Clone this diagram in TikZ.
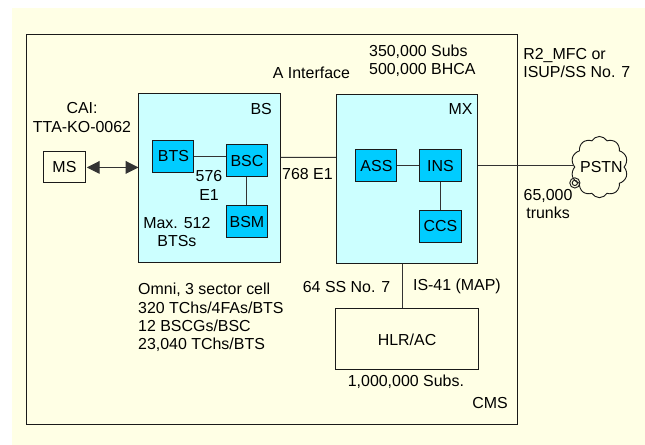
\documentclass[tikz,border=0pt]{standalone}
\usepackage{fontspec}
\setmainfont{Liberation Sans}
\definecolor{Ink}{HTML}{1A1A1A}
\definecolor{Wire}{HTML}{333333}
\definecolor{Paper}{HTML}{FFFFE5}
\definecolor{PaleCyan}{HTML}{CCFFFF}
\definecolor{Cyan}{HTML}{00CCFF}
\usetikzlibrary{arrows.meta, shapes.symbols}

\begin{document}
\begin{tikzpicture}[>={Triangle[length=3.4mm,width=3.4mm]},
  font=\fontsize{12}{13.8}\selectfont,
  frame/.style={rectangle, draw=Ink, line width=0.75pt, inner sep=0pt},
  unit/.style={frame, fill=PaleCyan, minimum width=3.74cm},
  proc/.style={frame, fill=Cyan, minimum width=1.085cm, minimum height=0.847cm},
  plain/.style={frame, fill=Paper},
  arr/.style={draw=Wire, line width=0.75pt},
  lbl/.style={inner sep=0pt, align=center},
  lbll/.style={inner sep=0pt, align=left, anchor=west},
  lblr/.style={inner sep=0pt, anchor=east}
]
\useasboundingbox (0,0) rectangle (17.066,-11.774);
\fill[Paper] (0.3175,-0.2117) rectangle (17.066,-11.774);

%% ---- CMS frame ----
\node[frame, minimum width=12.98cm, minimum height=10.32cm] (cms) at (7.19,-6.06) {};

%% ---- Terminal ----
\node[plain, minimum width=1.09cm, minimum height=0.82cm] (ms) at (1.705,-4.43) {MS};

%% ---- Base station ----
\node[unit, minimum height=4.47cm] (bs) at (5.545,-4.72) {};
\node[proc] (bts) at (4.59,-4.13) {BTS};
\node[proc] (bsc) at (6.535,-4.25) {BSC};
\node[proc] (bsm) at (6.535,-5.87) {BSM};

%% ---- Exchange ----
\node[unit, minimum height=4.45cm] (mx) at (10.77,-4.735) {};
\node[proc] (ass) at (9.96,-4.39) {ASS};
\node[proc] (ins) at (11.655,-4.39) {INS};
\node[proc] (ccs) at (11.655,-5.98) {CCS};

%% ---- Home register ----
\node[plain, minimum width=3.76cm, minimum height=1.61cm] (hlr) at (10.77,-8.98) {HLR/AC};

%% ---- Public network ----
\node[cloud, cloud puffs=10, cloud puff arc=120, aspect=0.95, draw=Ink, line width=0.7pt,
      inner sep=0pt, minimum width=1.5cm, minimum height=1.62cm,
      label={[xshift=1.5pt]center:PSTN}] (pstn) at (15.86,-4.42) {};
\node[circle, draw=Ink, line width=0.7pt, inner sep=0pt, minimum size=0.27cm] (trunkout) at (15.21,-4.84) {};
\node[circle, draw=Ink, line width=0.7pt, inner sep=0pt, minimum size=0.14cm] (trunkin) at (15.21,-4.84) {};

%% ---- Labels ----
\node[lbl] (cai) at (2.17,-3.11) {CAI:\\TTA-KO-0062};
\node[lblr] (bslbl) at (7.2,-2.88) {BS};
\node[lblr] (mxlbl) at (12.51,-2.88) {MX};
\node[lbl] (e1in) at (5.53,-4.91) {576\\E1};
\node[lbl] (maxbts) at (4.68,-6.13) {Max. 512\\BTSs};
\node[lbl] (aif) at (8.24,-1.93) {A Interface};
\node[lbll] (subs) at (9.76,-1.6) {350,000 Subs\\500,000 BHCA};
\node[lbl] (e1out) at (8.135,-4.60) {768 E1};
\node[lbll] (r2) at (13.84,-1.67) {R2\_MFC or\\ISUP/SS No. 7};
\node[lbl] (trunks) at (14.5,-5.39) {65,000\\trunks};
\node[lbl] (ss7) at (9.17,-7.59) {64 SS No. 7};
\node[lbl] (is41) at (12.09,-7.59) {IS-41 (MAP)};
\node[lbll] (omni) at (3.65,-8.40) {Omni, 3 sector cell\\320 TChs/4FAs/BTS\\12 BSCGs/BSC\\23,040 TChs/BTS};
\node[lbl] (hlrsubs) at (10.74,-10.11) {1,000,000 Subs.};
\node[lblr] (cmslbl) at (13.44,-10.66) {CMS};

%% ---- Arrows ----
\draw[arr, <->, shorten <=1pt] (ms) -- (ms -| bs.west);
\draw[arr] (bts) -- (bts -| bsc.west);
\draw[arr] (bsc) -- (bsm);
\draw[arr] ([yshift=15.9pt]bs.east) -- ([yshift=16.3pt]mx.west);
\draw[arr] (ass) -- (ins);
\draw[arr] (ins) -- (ccs);
\draw[arr] (ins -| mx.east) -- (ins -| pstn.west);
\draw[arr] ([xshift=-3.2pt]mx.south) -- ([xshift=-3.2pt]hlr.north);

\end{tikzpicture}
\end{document}
